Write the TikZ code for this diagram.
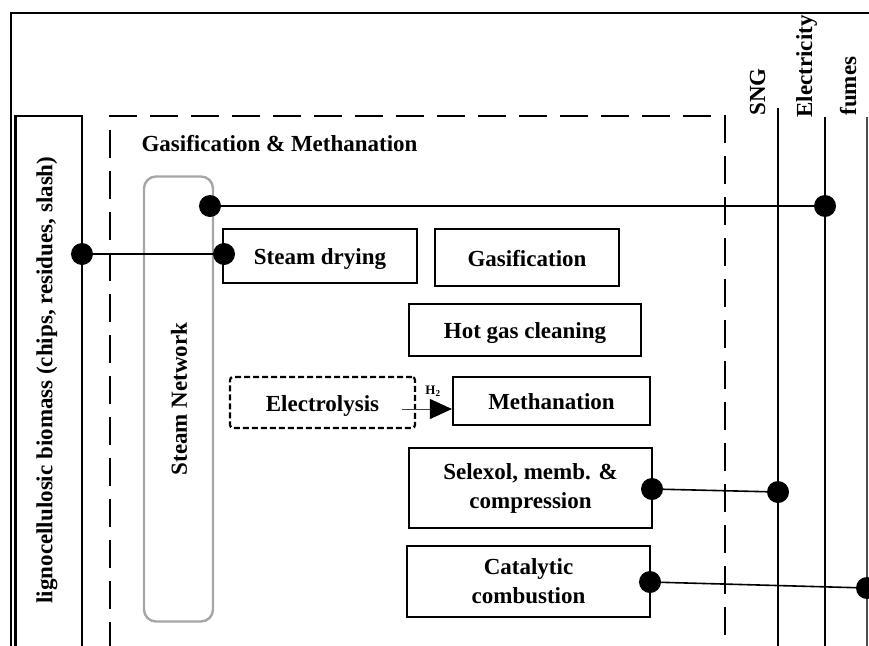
\documentclass[tikz,border=0pt]{standalone}
\usepackage{fontspec}
\setmainfont{Liberation Serif}
\usetikzlibrary{arrows.meta}
\definecolor{netgray}{HTML}{A6A6A6}
\begin{document}
\begin{tikzpicture}[x=1pt,y=-1pt,
  lbl/.style={font=\bfseries\fontsize{23}{29}\selectfont},
  procbox/.style={lbl,draw,line width=2.2pt,align=center,inner sep=0pt},
  onerow/.style={text height=18pt,text depth=1pt},
  dot/.style={circle,fill=black,inner sep=0pt,minimum size=22pt},
  flow/.style={line width=1.6pt},
  stream/.style={line width=1.6pt},
]
\useasboundingbox (0,0) rectangle (869,645);
\clip (0,0) rectangle (869,645);

% outer frame
\draw[line width=1.8pt] (11,650) -- (11,13) -- (875,13);

% biomass feed column
\draw[line width=2.2pt] (15.5,650) -- (15.5,116) -- (82,116) -- (82,650);
\node[lbl,rotate=90] (bio) at (47,380) {lignocellulosic biomass (chips, residues, slash)};

% gasification & methanation island
\draw[line width=2.6pt,dash pattern=on 28pt off 13pt] (110,650) -- (110,116) -- (725,116) -- (725,650);
\node[lbl,anchor=base west] (title) at (138,151) {Gasification \& Methanation};

% steam network
\node[draw=netgray,line width=2.4pt,rounded corners=12pt,minimum width=69pt,minimum height=445pt] (net) at (178.5,399) {};
\node[lbl,rotate=90] (netlbl) at (179,399) {Steam Network};

% process units
\node[procbox,onerow,minimum width=194pt,minimum height=54pt] (sd) at (320,256) {Steam drying};
\node[procbox,onerow,minimum width=184pt,minimum height=57pt] (gas) at (527,257.5) {Gasification};
\node[procbox,onerow,minimum width=232pt,minimum height=52pt] (hgc) at (525,330) {Hot gas cleaning};
\node[procbox,onerow,dash pattern=on 6pt off 3pt,rounded corners=3pt,minimum width=185pt,minimum height=51pt] (el) at (322.5,402.5) {Electrolysis};
\node[procbox,onerow,minimum width=197pt,minimum height=48pt] (meth) at (551.5,401) {Methanation};
\node[procbox,minimum width=243pt,minimum height=80pt] (sel) at (530.5,488) {Selexol, memb. \&\\compression};
\node[procbox,minimum width=243pt,minimum height=71pt] (cat) at (528.5,581.5) {Catalytic\\combustion};

% hydrogen feed
\coordinate (h2s) at (402,409);
\draw[line width=0.9pt,black!75,-{Triangle[length=22pt,width=20pt,fill=black,color=black]}] (h2s) -- (meth.west |- h2s);
\node[font=\bfseries\fontsize{13}{13}\selectfont] (h2) at (433,391) {H\textsubscript{2}};

% utility headers
\coordinate (sngtop) at (778,108);
\coordinate (sngbot) at (778,650);
\coordinate (eltop) at (825,117);
\coordinate (elbot) at (825,650);
\coordinate (futop) at (867,117);
\coordinate (fubot) at (867,650);
\draw[stream] (sngtop) -- (sngbot);
\draw[stream] (eltop) -- (elbot);
\draw[stream,black!70] (futop) -- (fubot);
\node[lbl,rotate=90,anchor=base west] (sng) at (765,119) {SNG};
\node[lbl,rotate=90,anchor=base west] (elec) at (812,121) {Electricity};
\node[lbl,rotate=90,anchor=base west] (fumes) at (856,119) {fumes};

% connection points
\node[dot] (pbio) at (82,254) {};
\node[dot] (psd) at (224,254) {};
\node[dot] (pnet) at (210,206) {};
\node[dot] (pel) at (825,206) {};
\node[dot] (psel) at (652,489) {};
\node[dot] (psng) at (778,492) {};
\node[dot] (pcat) at (650,582) {};
\node[dot] (pfu) at (867,588) {};

\draw[flow] (pbio) -- (psd);
\draw[flow] (pnet) -- (pel);
\draw[flow] (psel) -- (psng);
\draw[flow] (pcat) -- (pfu);
\end{tikzpicture}
\end{document}
